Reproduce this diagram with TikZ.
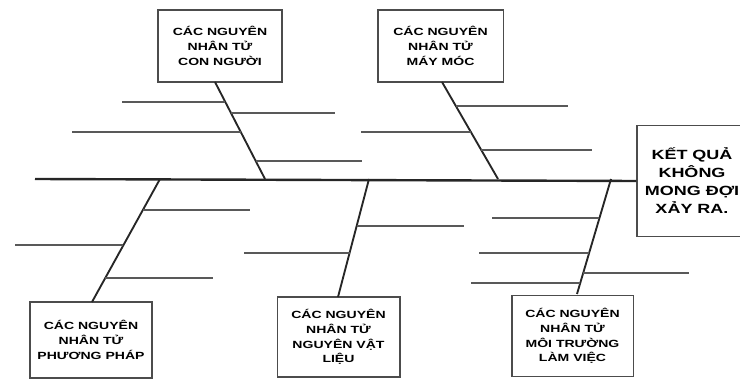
\documentclass[tikz,border=0pt]{standalone}
\usepackage{fontspec}
\setmainfont{Liberation Sans}
\newfontfamily\causefont[FakeStretch=1.35]{Liberation Sans Bold}
\usetikzlibrary{positioning,calc}
\tikzstyle{cause} = [draw=black!70, line width=1pt, align=center, inner sep=1pt, font=\causefont\fontsize{7.8}{11}\selectfont]
\tikzstyle{effect} = [draw=black!70, line width=1pt, align=center, inner sep=1pt, minimum width=82.5pt, minimum height=83pt, font=\causefont\fontsize{10}{13.5}\selectfont]
\tikzstyle{spine} = [line width=1.8pt, black!85]
\tikzstyle{bone} = [line width=1.4pt, black!85]
\tikzstyle{rib} = [line width=0.9pt, black!65]

\begin{document}
\begin{tikzpicture}[x=0.75pt,y=-0.75pt]
\useasboundingbox (0,0) rectangle (740,381);
\clip (0,0) rectangle (740,381);
% boxes
\node[cause, minimum width=93pt, minimum height=54pt] (conNguoi) at (220,46) {CÁC NGUYÊN\\NHÂN TỬ\\CON NGƯỜI};
\node[cause, minimum width=94pt, minimum height=54pt] (mayMoc) at (440.5,46) {CÁC NGUYÊN\\NHÂN TỬ\\MÁY MÓC};
\node[cause, minimum width=91.5pt, minimum height=57pt] (phuongPhap) at (91,340) {CÁC NGUYÊN\\NHÂN TỬ\\PHƯƠNG PHÁP};
\node[cause, minimum width=92pt, minimum height=60pt] (vatLieu) at (338.5,337) {CÁC NGUYÊN\\NHÂN TỬ\\NGUYÊN VẬT\\LIỆU};
\node[cause, minimum width=91pt, minimum height=61pt] (moiTruong) at (572.5,336) {CÁC NGUYÊN\\NHÂN TỬ\\MÔI TRƯỜNG\\LÀM VIỆC};
\node[effect] (ketQua) at (692,181) {KẾT QUẢ\\KHÔNG\\MONG ĐỢI\\XẢY RA.};
% spine
\coordinate (head) at (35,179);
\draw[spine] (head) -- (ketQua.west);
% upper bones
\coordinate (t1) at (215,82);
\coordinate (s1) at (265,179);
\coordinate (t2) at (442,82);
\coordinate (s2) at (498,179);
\draw[bone] (t1) -- (s1);
\draw[bone] (t2) -- (s2);
% lower bones
\coordinate (s3) at (160,179);
\coordinate (b3) at (92,302);
\coordinate (s4) at (369,179);
\coordinate (b4) at (338,297);
\coordinate (s5) at (611,179);
\coordinate (b5) at (577,294);
\draw[bone] (s3) -- (b3);
\draw[bone] (s4) -- (b4);
\draw[bone] (s5) -- (b5);
% ribs
\draw[rib] ($(t1)!0.206!(s1)$) -- +(-103,0);
\draw[rib] ($(t1)!0.32!(s1)$) -- +(104,0);
\draw[rib] ($(t1)!0.515!(s1)$) -- +(-169,0);
\draw[rib] ($(t1)!0.814!(s1)$) -- +(106,0);
\draw[rib] ($(t2)!0.247!(s2)$) -- +(112,0);
\draw[rib] ($(t2)!0.515!(s2)$) -- +(-110,0);
\draw[rib] ($(t2)!0.701!(s2)$) -- +(111,0);
\draw[rib] ($(s3)!0.252!(b3)$) -- +(107,0);
\draw[rib] ($(s3)!0.537!(b3)$) -- +(-108,0);
\draw[rib] ($(s3)!0.805!(b3)$) -- +(108,0);
\draw[rib] ($(s4)!0.398!(b4)$) -- +(107,0);
\draw[rib] ($(s4)!0.627!(b4)$) -- +(-106,0);
\draw[rib] ($(s5)!0.339!(b5)$) -- +(-107,0);
\draw[rib] ($(s5)!0.643!(b5)$) -- +(-110,0);
\draw[rib] ($(s5)!0.817!(b5)$) -- +(106,0);
\draw[rib] ($(s5)!0.904!(b5)$) -- +(-109,0);
\end{tikzpicture}
\end{document}
